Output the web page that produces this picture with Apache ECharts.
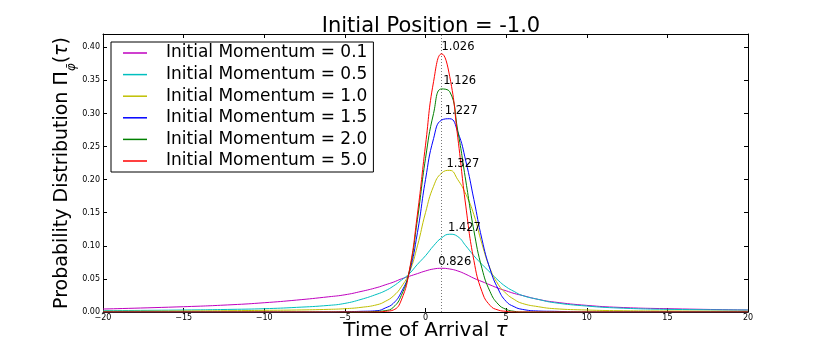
<!DOCTYPE html>
<html>
<head>
<meta charset="utf-8">
<script src="https://cdn.jsdelivr.net/npm/echarts@6/dist/echarts.min.js"></script>
<style>
  html, body { margin: 0; padding: 0; background: #fff; }
  #graphArrival { width: 830px; height: 345px; }
</style>
</head>
<body>
<div id="graphArrival"></div>
<script>
// time of arrival grid
var tau = [-20, -15, -12, -10, -8, -6, -5, -4, -3, -2.5, -2, -1.5, -1, -0.5, 0, 0.5, 1, 1.5, 2, 2.5, 3, 3.5, 4, 4.5, 5, 5.5, 6, 7, 8, 10, 12, 15, 20];

var p01 = [0.0045, 0.008, 0.011, 0.014, 0.018, 0.023, 0.026, 0.031, 0.037, 0.041, 0.045, 0.050, 0.054, 0.058, 0.062, 0.065, 0.066, 0.065, 0.062, 0.057, 0.051, 0.046, 0.041, 0.036, 0.032, 0.028, 0.025, 0.019, 0.015, 0.010, 0.007, 0.005, 0.003];
var p05 = [0.002, 0.003, 0.004, 0.005, 0.007, 0.010, 0.013, 0.019, 0.027, 0.032, 0.039, 0.048, 0.058, 0.072, 0.085, 0.100, 0.112, 0.1175, 0.114, 0.100, 0.085, 0.072, 0.060, 0.048, 0.038, 0.031, 0.025, 0.019, 0.014, 0.009, 0.006, 0.004, 0.003];
var p10 = [0.001, 0.0015, 0.002, 0.0025, 0.003, 0.004, 0.005, 0.007, 0.011, 0.016, 0.024, 0.038, 0.060, 0.100, 0.150, 0.190, 0.210, 0.214, 0.200, 0.178, 0.147, 0.103, 0.066, 0.042, 0.028, 0.019, 0.013, 0.008, 0.005, 0.003, 0.002, 0.0015, 0.001];
var p15 = [0, 0, 0, 0, 0, 0, 0.0005, 0.001, 0.002, 0.006, 0.013, 0.030, 0.060, 0.120, 0.200, 0.262, 0.290, 0.292, 0.272, 0.228, 0.170, 0.110, 0.065, 0.035, 0.016, 0.008, 0.004, 0.0015, 0.001, 0, 0, 0, 0];
var p20 = [0, 0, 0, 0, 0, 0, 0, 0, 0.001, 0.002, 0.007, 0.025, 0.062, 0.140, 0.232, 0.300, 0.337, 0.333, 0.274, 0.198, 0.123, 0.066, 0.031, 0.012, 0.004, 0.001, 0, 0, 0, 0, 0, 0, 0];
var p50 = [0, 0, 0, 0, 0, 0, 0, 0, 0, 0.001, 0.003, 0.018, 0.063, 0.148, 0.252, 0.348, 0.390, 0.356, 0.264, 0.160, 0.078, 0.031, 0.010, 0.003, 0.001, 0, 0, 0, 0, 0, 0, 0, 0];

var momenta = ['0.1', '0.5', '1.0', '1.5', '2.0', '5.0'];
var colors = ['#bf00bf', '#00bfbf', '#bfbf00', '#0000ff', '#008000', '#ff0000'];

// peak annotations
var peakTau = [0.826, 1.427, 1.327, 1.227, 1.126, 1.026];
var peakVal = [0.066, 0.1175, 0.214, 0.2935, 0.339, 0.390];
var markTau = 1.0;

var dom_chart = document.getElementById("graphArrival");
var chart = echarts.init(dom_chart);

function pairs(ys){
    var out = [];
    for (var i = 0; i < tau.length; i++) {
        out.push([tau[i], ys[i]]);
    }
    return out;
}

function minus(v){
    return String(v).replace('-', '\u2212');
}

var font = 'DejaVu Sans';
var allData = [p01, p05, p10, p15, p20, p50];

var series = [];
for (var k = 0; k < allData.length; k++) {
    series.push({
        name: 'Initial Momentum = ' + momenta[k],
        type: 'line',
        data: pairs(allData[k]),
        smooth: true,
        symbol: 'none',
        showSymbol: false,
        lineStyle: {color: colors[k], width: 1},
        itemStyle: {color: colors[k]},
        z: 2 + k
    });
}
series[0].markLine = {
    silent: true,
    symbol: 'none',
    label: {show: false},
    lineStyle: {color: '#555', type: [1, 2], width: 0.8},
    data: [{xAxis: markTau}]
};

var peaks = [];
for (var j = 0; j < peakTau.length; j++) {
    peaks.push({value: [peakTau[j], peakVal[j]], name: peakTau[j].toFixed(3)});
}
series.push({
    type: 'scatter',
    data: peaks,
    symbolSize: 1,
    itemStyle: {color: 'rgba(0,0,0,0)'},
    label: {
        show: true,
        position: [0, 0],
        align: 'left',
        verticalAlign: 'bottom',
        formatter: function (p) { return p.name; },
        fontFamily: font,
        fontSize: 11.5,
        color: '#000',
        opacity: 1
    },
    z: 20
});

var tickStyle = {inside: true, length: 4, lineStyle: {color: '#000'}};
var lineStyle = {show: true, onZero: false, lineStyle: {color: '#000', width: 1}};

option = {
    backgroundColor: '#fff',
    animation: false,
    title: {
        text: 'Initial Position = -1.0',
        left: 426, top: 11, textAlign: 'center',
        textStyle: {fontFamily: font, fontSize: 21, fontWeight: 'normal', color: '#000'}
    },
    grid: {left: 103, right: 82, top: 34, bottom: 33, containLabel: false, outerBoundsMode: 'none'},
    legend: {
        orient: 'vertical',
        left: 111, top: 42,
        padding: [2, 6, 2, 12],
        itemGap: 3.6,
        itemWidth: 24, itemHeight: 1.5,
        icon: 'rect',
        borderColor: '#000', borderWidth: 1,
        backgroundColor: '#fff',
        textStyle: {fontFamily: font, fontSize: 17, color: '#000', lineHeight: 18, padding: [0, 0, 0, 14]},
        data: series.slice(0, 6).map(function (s) { return s.name; })
    },
    xAxis: [{
        type: 'value', min: -20, max: 20, interval: 5,
        name: 'Time of Arrival {i|τ}', nameLocation: 'middle', nameGap: 9,
        nameMoveOverlap: false,
        nameTextStyle: {fontFamily: font, fontSize: 20, color: '#000', verticalAlign: 'top',
            rich: {i: {fontFamily: font, fontSize: 20, fontStyle: 'italic', color: '#000'}}},
        axisLine: lineStyle, axisTick: tickStyle, splitLine: {show: false},
        axisLabel: {fontFamily: font, fontSize: 8, color: '#000', margin: 2, formatter: minus}
    }, {
        type: 'value', min: -20, max: 20, interval: 5, position: 'top',
        axisLine: lineStyle, axisTick: tickStyle, splitLine: {show: false},
        axisLabel: {show: false}
    }],
    yAxis: [{
        type: 'value', min: 0, max: 0.42, interval: 0.05,
        name: 'Probability Distribution Π{s|φ̄}({i|τ})', nameLocation: 'middle', nameGap: 31,
        nameRotate: 90,
        nameMoveOverlap: false,
        nameTextStyle: {fontFamily: font, fontSize: 19, color: '#000',
            rich: {
                s: {fontFamily: font, fontSize: 12, fontStyle: 'italic', color: '#000', verticalAlign: 'bottom', padding: [0, 0, -6, 0]},
                i: {fontFamily: font, fontSize: 19, fontStyle: 'italic', color: '#000'}
            }},
        axisLine: lineStyle, axisTick: tickStyle, splitLine: {show: false},
        axisLabel: {fontFamily: font, fontSize: 8, color: '#000', margin: 3, showMaxLabel: false,
            formatter: function (v) { return v.toFixed(2); }}
    }, {
        type: 'value', min: 0, max: 0.42, interval: 0.05, position: 'right',
        axisLine: lineStyle, axisTick: tickStyle, splitLine: {show: false},
        axisLabel: {show: false}
    }],
    series: series
};

chart.setOption(option);
</script>
</body>
</html>
